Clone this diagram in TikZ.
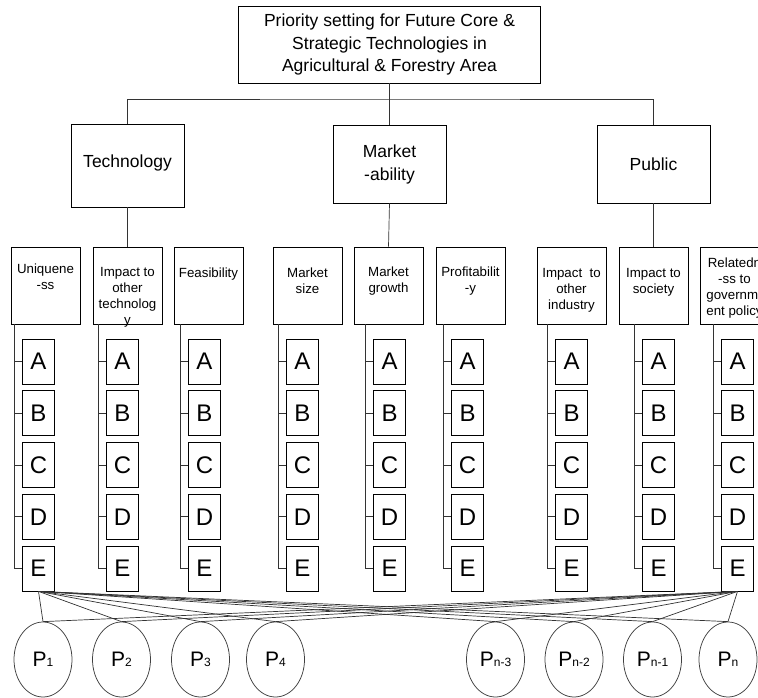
\documentclass[tikz,border=0pt]{standalone}
\usepackage{fontspec}
\setmainfont{Liberation Sans}
\usetikzlibrary{positioning,shapes.geometric}

\newcommand{\Psub}[1]{P{\fontsize{12}{12}\selectfont #1}}

\begin{document}
\begin{tikzpicture}[
  x=1pt, y=-1pt,
  line width=0.75pt,
  box/.style={draw=black, rectangle, inner sep=0pt, align=center},
  topbox/.style={box, minimum width=302, minimum height=77, font=\fontsize{17.5}{22.5}\selectfont},
  catbox/.style={box, minimum width=113, minimum height=78, font=\fontsize{17.5}{23}\selectfont},
  critbox/.style={box, minimum width=69, minimum height=77},
  crittext/.style={align=center, inner sep=0pt, font=\fontsize{13.3}{16}\selectfont},
  letbox/.style={box, minimum width=32, minimum height=45, font=\fontsize{24}{24}\selectfont},
  prio/.style={ellipse, draw=black!75, minimum width=58, minimum height=75, inner sep=0pt, font=\fontsize{21}{21}\selectfont},
  link/.style={draw=black!80, line width=0.7pt}
]
\useasboundingbox (0,0) rectangle (758,698);
\clip (0,0) rectangle (758,698);

% goal and main criteria
\node[topbox] (top) at (389.5,44.5) {Priority setting for Future Core \&\\Strategic Technologies in\\Agricultural \& Forestry Area};
\node[catbox, minimum height=83] (tech) at (127.5,165.5) {\raisebox{9pt}{Technology}};
\node[catbox] (mkt) at (389.5,164) {Market\\-ability};
\node[catbox] (pub) at (653.5,164) {Public};
\coordinate (bus) at (389.5,99);

% sub criteria
\node[critbox] (uniq) at (45.5,285.5) {};
\node[critbox] (imptech) at (127.5,285.5) {};
\node[critbox] (feas) at (208.5,285.5) {};
\node[critbox] (msize) at (307.5,285.5) {};
\node[critbox] (mgrow) at (388.5,285.5) {};
\node[critbox] (profit) at (470.5,285.5) {};
\node[critbox] (impind) at (571.5,285.5) {};
\node[critbox] (impsoc) at (653.5,285.5) {};
\node[critbox] (relgov) at (734.5,285.5) {};

\node[crittext, below=17pt of uniq.north] {Uniquene\\-ss};
\node[crittext, below=20pt of imptech.north] {Impact to\\other\\technolog\\y};
\node[crittext, below=21pt of feas.north] {Feasibility};
\node[crittext, below=21pt of msize.north] {Market\\size};
\node[crittext, below=20pt of mgrow.north] {Market\\growth};
\node[crittext, below=20pt of profit.north] {Profitabilit\\-y};
\node[crittext, below=21pt of impind.north] {Impact~~to\\other\\industry};
\node[crittext, below=21pt of impsoc.north] {Impact to\\society};
\node[crittext, below=11pt of relgov.north] {Relatedn\\-ss to\\governm-\\ent policy};

\draw[link] (top.south) -- (mkt.north);
\draw[link] (tech.north) |- (bus) -| (pub.north);
\draw[link] (tech.south) -- (imptech.north);
\draw[link] (mkt.south) -- (mgrow.north);
\draw[link] (pub.south) -- (impsoc.north);

% alternatives A--E under every sub criterion
\foreach \nm/\tx in {uniq/14, imptech/98, feas/180, msize/278, mgrow/365, profit/443, impind/547, impsoc/634, relgov/713}{
  \coordinate (\nm-t) at (\tx,324);
  \foreach \l [count=\i from 0] in {A,B,C,D,E}
    \node[letbox] (\nm-\l) at (\tx+24.5,361.5+51.75*\i) {\l};
  \draw[link] (\nm-t) |- (\nm-E.west);
  \foreach \l in {A,B,C,D}
    \draw[link] (\nm-\l.west) -- (\nm-\l.west -| \nm-t);
}

% projects
\node[prio] (p1) at (43,659.5) {\Psub{1}};
\node[prio] (p2) at (121.5,659.5) {\Psub{2}};
\node[prio] (p3) at (200.5,659.5) {\Psub{3}};
\node[prio] (p4) at (275.5,659.5) {\Psub{4}};
\node[prio] (pn3) at (495.5,659.5) {\Psub{n-3}};
\node[prio] (pn2) at (574,659.5) {\Psub{n-2}};
\node[prio] (pn1) at (652.5,659.5) {\Psub{n-1}};
\node[prio] (pn) at (728,659.5) {\Psub{n}};

\foreach \p in {p1,p2,p3,p4,pn3,pn2,pn1,pn}{
  \draw[link] (uniq-E.south) -- (\p.north);
  \draw[link] (relgov-E.south) -- (\p.north);
}
\end{tikzpicture}
\end{document}
